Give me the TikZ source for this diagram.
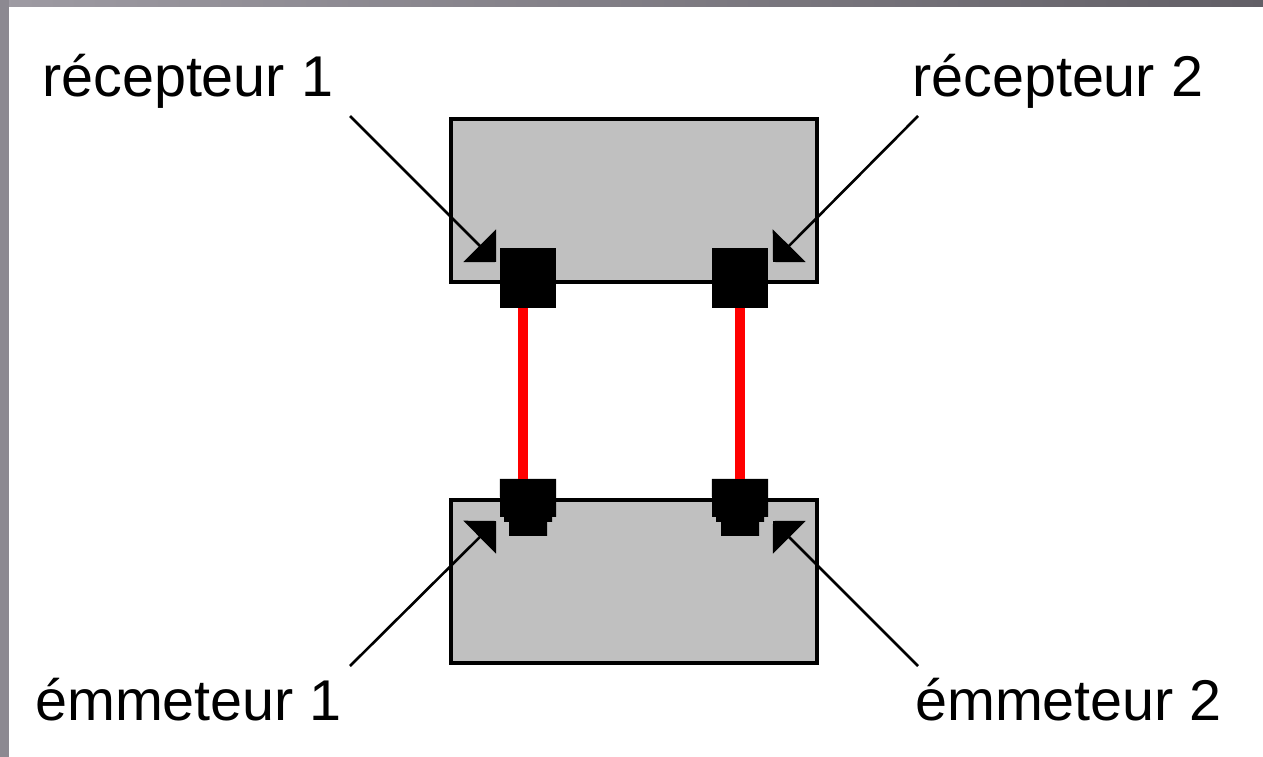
\documentclass[tikz,border=0pt]{standalone}
\usepackage{fontspec}
\setmainfont{Liberation Sans}
\usetikzlibrary{arrows.meta}
\definecolor{boxgray}{RGB}{192,192,192}
\definecolor{frameA}{RGB}{158,155,163}
\definecolor{frameB}{RGB}{98,95,102}
\definecolor{frameL}{RGB}{140,137,145}
\definecolor{linkred}{RGB}{255,0,0}
\tikzset{
  unitbox/.style={draw=black, fill=boxgray, line width=4.5pt, inner sep=0pt, minimum width=366pt, minimum height=163pt},
  portsq/.style={fill=black, inner sep=0pt, minimum width=56pt, minimum height=60pt},
  portslot/.style={inner sep=0pt, minimum width=56pt, minimum height=57pt},
  link/.style={linkred, line width=10pt},
  pointer/.style={black, line width=2.6pt, -{Triangle[length=23pt,width=46pt]}},
  lbl/.style={inner sep=0pt, font=\fontsize{57.5}{60}\selectfont, text=black}
}
\begin{document}
\begin{tikzpicture}[x=1pt,y=-1pt]
\useasboundingbox (0,0) rectangle (1263,757);
\fill[white] (0,0) rectangle (1263,757);
% window frame
\shade[left color=frameA, right color=frameB] (0,0) rectangle (1263,7);
\fill[frameL] (0,0) rectangle (9,757);
% boxes
\node[unitbox] (top) at (634,200.5) {};
\node[unitbox] (bot) at (634,581.5) {};
% top ports
\node[portsq] (tl) at (528,278) {};
\node[portsq] (tr) at (740,278) {};
% bottom ports (rounded bottom)
\node[portslot] (bl) at (528,507.5) {};
\node[portslot] (br) at (740,507.5) {};
\foreach \p in {bl,br}{
  \fill[black] (\p.north west) -- (\p.north east) -- ++(0,38) -- ++(-4,0) -- ++(0,5) -- ++(-5,0) -- ++(0,14) -- ++(-38,0) -- ++(0,-14) -- ++(-5,0) -- ++(0,-5) -- ++(-4,0) -- cycle;
}
% red links
\draw[link] ([xshift=-5pt]tl.south) -- ([xshift=-5pt]bl.north);
\draw[link] (tr.south) -- (br.north);
% labels
\node[lbl, anchor=base west] (r1) at (42,97) {récepteur 1};
\node[lbl, anchor=base west] (r2) at (912,97) {récepteur 2};
\node[lbl, anchor=base west] (e1) at (35,720) {émmeteur 1};
\node[lbl, anchor=base west] (e2) at (915,720) {émmeteur 2};
% pointer ends
\coordinate (r1s) at (350,116);
\coordinate (r1t) at (496,262);
\coordinate (r2s) at (918,116);
\coordinate (r2t) at (773,262);
\coordinate (e1s) at (350,666);
\coordinate (e1t) at (496,521);
\coordinate (e2s) at (918,666);
\coordinate (e2t) at (773,521);
\draw[pointer] (r1s) -- (r1t);
\draw[pointer] (r2s) -- (r2t);
\draw[pointer] (e1s) -- (e1t);
\draw[pointer] (e2s) -- (e2t);
\end{tikzpicture}
\end{document}
